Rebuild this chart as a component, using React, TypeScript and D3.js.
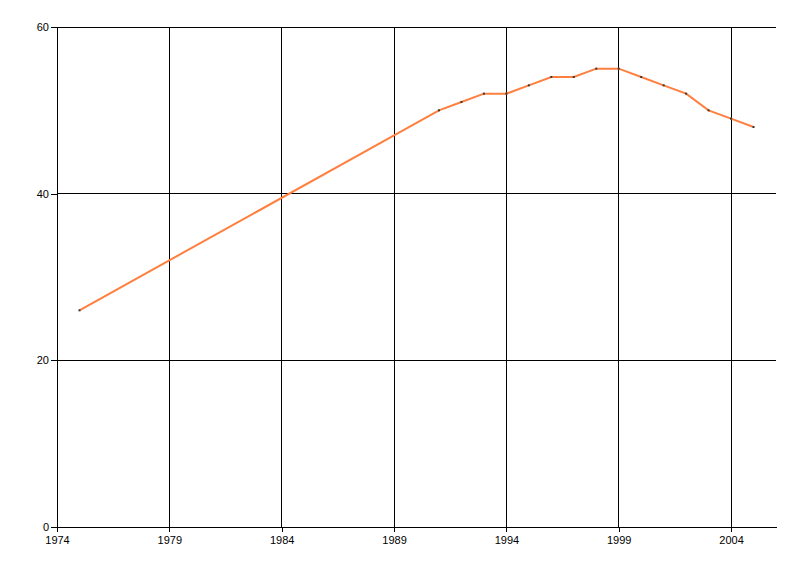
import { useEffect, useRef } from "react";
import { axisBottom, axisLeft, line, scaleLinear, select } from "d3";

const WIDTH = 800;
const HEIGHT = 576;
const MARGIN = { top: 27, right: 24, bottom: 49, left: 57 };

const years = [1975, 1991, 1992, 1993, 1994, 1995, 1996, 1997, 1998, 1999, 2000, 2001, 2002, 2003, 2004, 2005];
const values = [26, 50, 51, 52, 52, 53, 54, 54, 55, 55, 54, 53, 52, 50, 49, 48];
const xTicks = [1974, 1979, 1984, 1989, 1994, 1999, 2004];
const yTicks = [0, 20, 40, 60];

const FONT = "Liberation Sans, Arial, sans-serif";

export default function App() {
  const innerW = WIDTH - MARGIN.left - MARGIN.right;
  const innerH = HEIGHT - MARGIN.top - MARGIN.bottom;

  const x = scaleLinear().domain([1974, 2006]).range([0, innerW]);
  const y = scaleLinear().domain([0, 60]).range([innerH, 0]);

  const points = years.map((yr, i) => [yr, values[i]] as [number, number]);
  const path = line<[number, number]>()
    .x((d) => x(d[0]))
    .y((d) => y(d[1]));

  const xAxisRef = useRef<SVGGElement>(null);
  const yAxisRef = useRef<SVGGElement>(null);

  useEffect(() => {
    if (xAxisRef.current) {
      const g = select(xAxisRef.current);
      g.call(axisBottom(x).tickValues(xTicks).tickFormat((d) => String(d)).tickSize(5).tickSizeOuter(0));
      g.select(".domain").attr("stroke", "#000");
      g.selectAll("text")
        .attr("fill", "#000")
        .style("font-size", "11px")
        .style("font-family", FONT)
        .attr("dy", "0.9em")
        .attr("y", 7);
    }
    if (yAxisRef.current) {
      const g = select(yAxisRef.current);
      g.call(axisLeft(y).tickValues(yTicks).tickSize(6).tickSizeOuter(0));
      g.select(".domain").attr("stroke", "#000");
      g.selectAll("text")
        .attr("fill", "#000")
        .style("font-size", "11px")
        .style("font-family", FONT)
        .attr("x", -8);
    }
  });

  return (
    <svg width={WIDTH} height={HEIGHT} style={{ position: "absolute", left: 0, top: 0 }}>
      <rect width={WIDTH} height={HEIGHT} fill="#fff" />
      <g transform={`translate(${MARGIN.left},${MARGIN.top})`}>
        {xTicks.map((t) => (
          <line key={`gx${t}`} x1={x(t)} x2={x(t)} y1={0} y2={innerH} stroke="#000" strokeWidth={1} shapeRendering="crispEdges" />
        ))}
        {yTicks.map((t) => (
          <line key={`gy${t}`} x1={0} x2={innerW} y1={y(t)} y2={y(t)} stroke="#000" strokeWidth={1} shapeRendering="crispEdges" />
        ))}
        <g ref={yAxisRef} shapeRendering="crispEdges"></g>
        <g ref={xAxisRef} transform={`translate(0,${innerH})`} shapeRendering="crispEdges"></g>
        <path d={path(points) ?? undefined} fill="none" stroke="#ff7f3f" strokeWidth={2} />
        {points.map((p) => (
          <rect key={p[0]} x={x(p[0]) - 1} y={y(p[1]) - 1} width={2} height={2} fill="#3a3a3a" />
        ))}
      </g>
    </svg>
  );
}
